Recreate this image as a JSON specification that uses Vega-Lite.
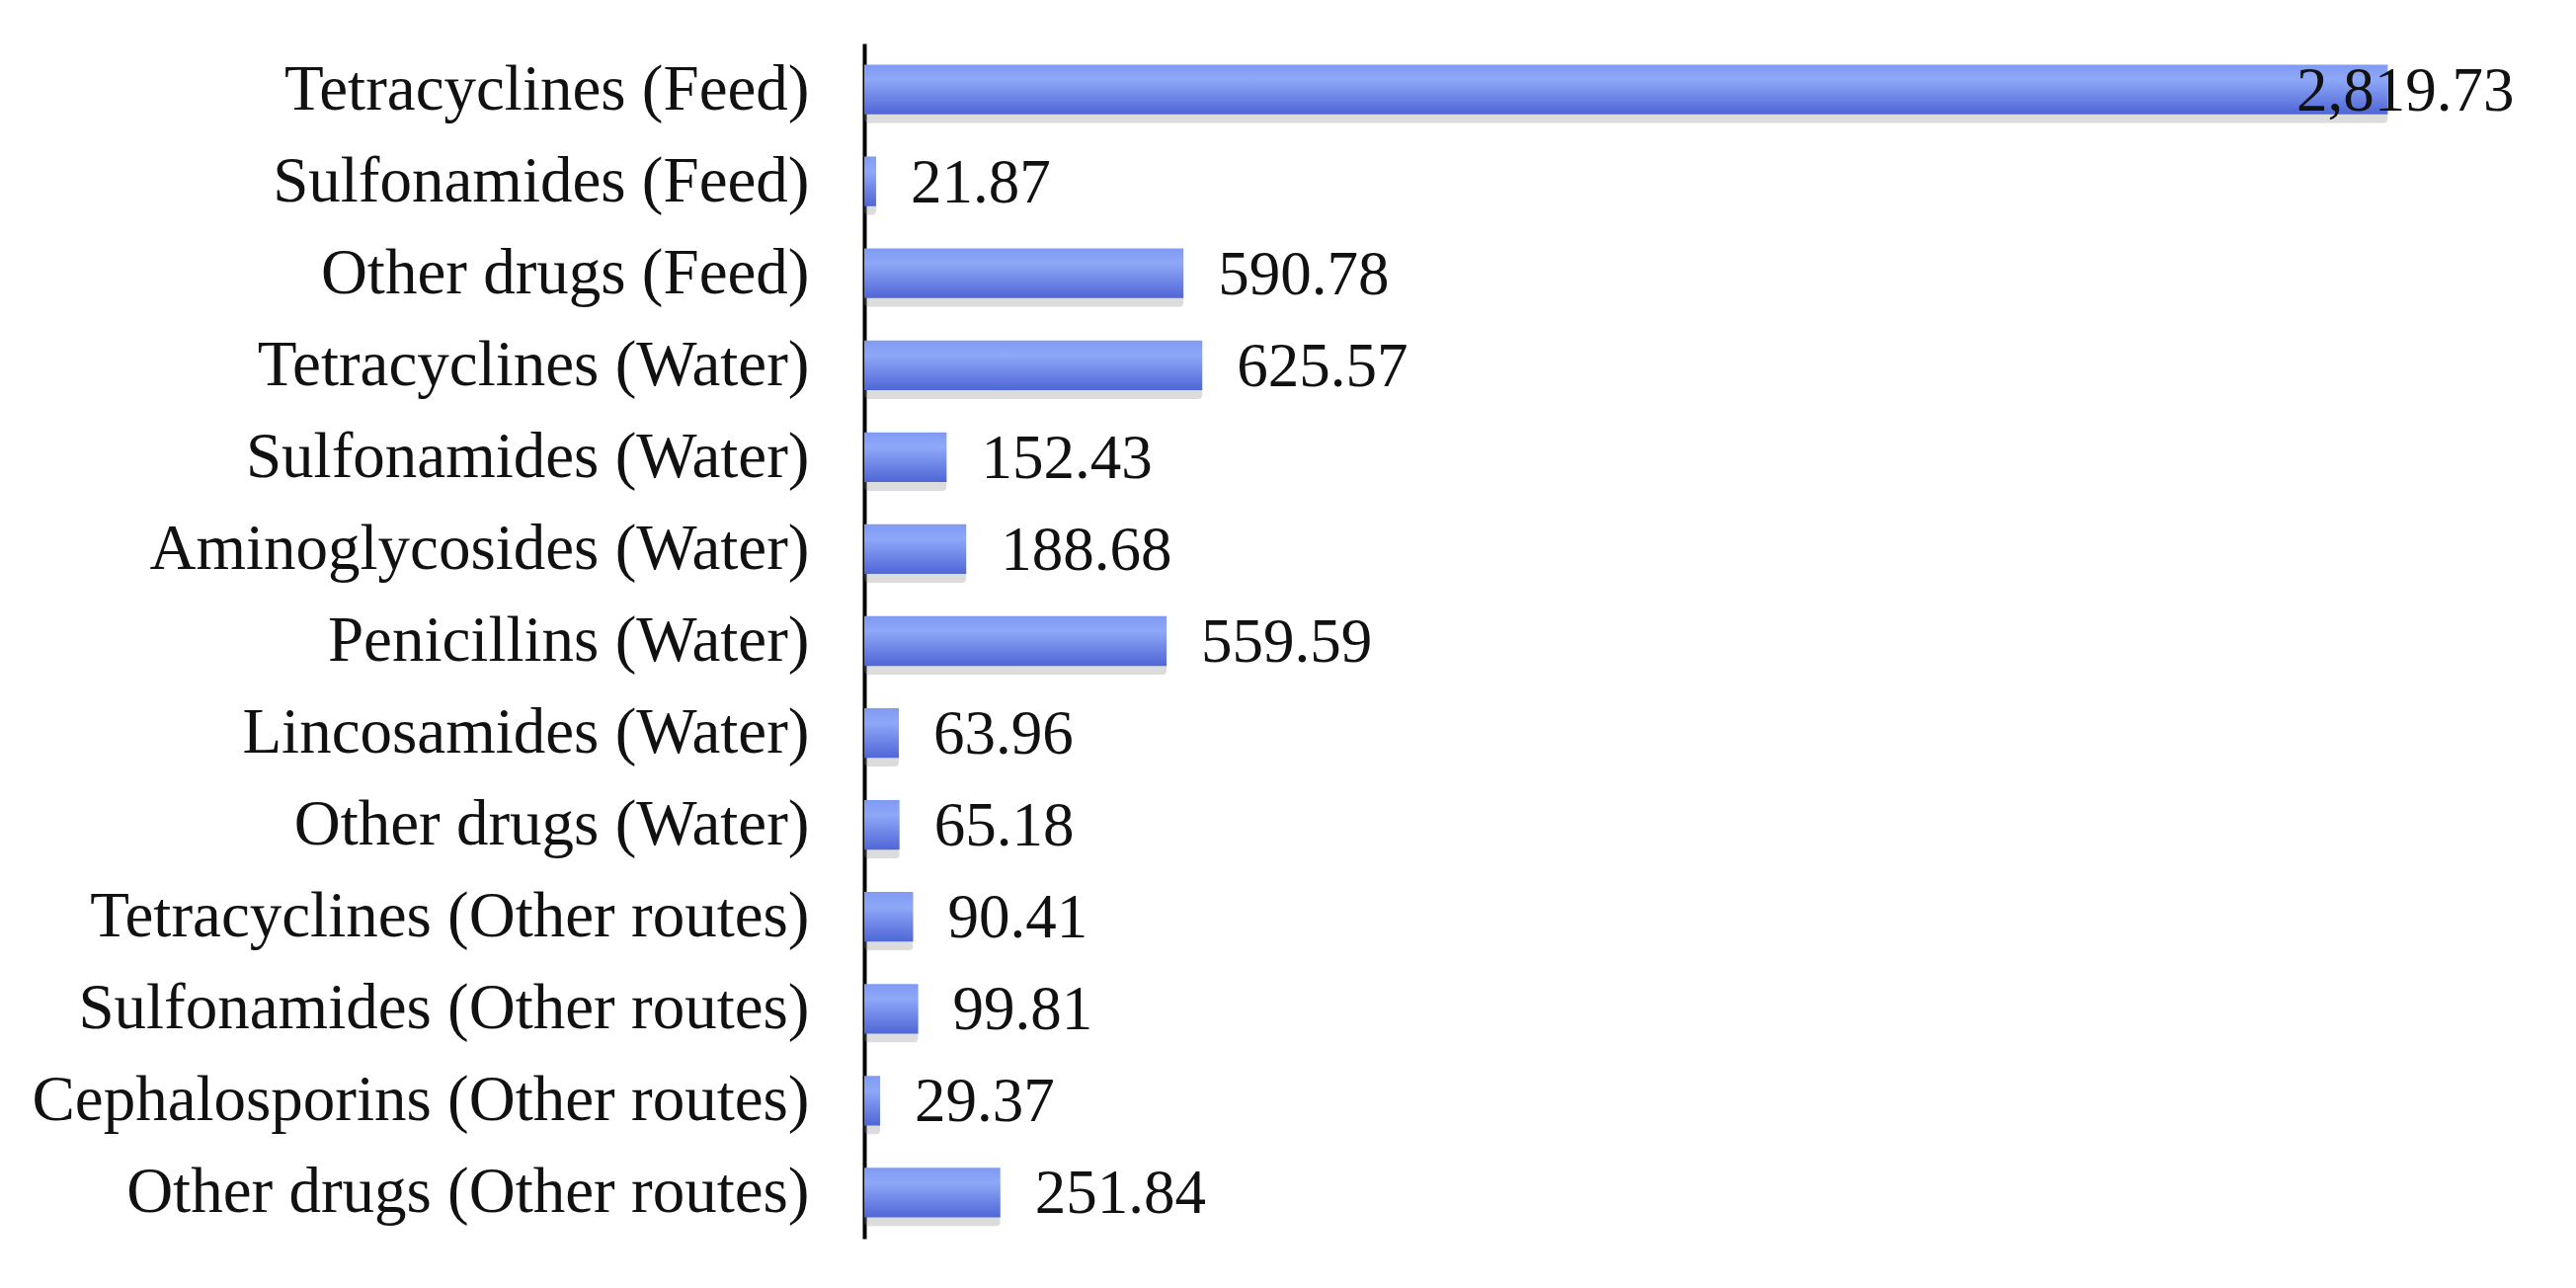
{
  "$schema": "https://vega.github.io/schema/vega-lite/v6.json",
  "autosize": "none",
  "padding": {"left": 875, "top": 44, "right": 92, "bottom": 50},
  "width": 1641,
  "height": 1210,
  "background": "white",
  "data": {
    "values": [
      {"name": "Tetracyclines (Feed)", "value": 2819.73},
      {"name": "Sulfonamides (Feed)", "value": 21.87},
      {"name": "Other drugs (Feed)", "value": 590.78},
      {"name": "Tetracyclines (Water)", "value": 625.57},
      {"name": "Sulfonamides (Water)", "value": 152.43},
      {"name": "Aminoglycosides (Water)", "value": 188.68},
      {"name": "Penicillins (Water)", "value": 559.59},
      {"name": "Lincosamides (Water)", "value": 63.96},
      {"name": "Other drugs (Water)", "value": 65.18},
      {"name": "Tetracyclines (Other routes)", "value": 90.41},
      {"name": "Sulfonamides (Other routes)", "value": 99.81},
      {"name": "Cephalosporins (Other routes)", "value": 29.37},
      {"name": "Other drugs (Other routes)", "value": 251.84}
    ]
  },
  "encoding": {
    "y": {
      "field": "name",
      "type": "nominal",
      "sort": null,
      "scale": {"paddingInner": 0.46, "paddingOuter": 0.23},
      "axis": {
        "title": null,
        "ticks": false,
        "domainColor": "#000000",
        "domainWidth": 4,
        "labelFont": "Liberation Serif",
        "labelFontSize": 65,
        "labelColor": "#111111",
        "labelPadding": 56,
        "labelLimit": 1000,
        "grid": false
      }
    },
    "x": {
      "field": "value",
      "type": "quantitative",
      "scale": {"domain": [0, 3000], "nice": false},
      "axis": null
    }
  },
  "layer": [
    {
      "mark": {"type": "bar", "color": "#8a8a8a", "opacity": 0.3, "cornerRadius": 4},
      "encoding": {"yOffset": {"value": 9}}
    },
    {
      "mark": {
        "type": "bar",
        "color": {
          "gradient": "linear",
          "x1": 0, "y1": 0, "x2": 0, "y2": 1,
          "stops": [
            {"offset": 0, "color": "#7f9af2"},
            {"offset": 0.3, "color": "#8ea8f8"},
            {"offset": 1, "color": "#4f66d6"}
          ]
        }
      }
    },
    {
      "transform": [{"filter": "datum.value < 2000"}],
      "mark": {
        "type": "text",
        "align": "left",
        "baseline": "middle",
        "dx": 35,
        "dy": 2,
        "font": "Liberation Serif",
        "fontSize": 63,
        "color": "#111111"
      },
      "encoding": {"text": {"field": "value", "type": "quantitative", "format": ",.2f"}}
    },
    {
      "transform": [{"filter": "datum.value >= 2000"}],
      "mark": {
        "type": "text",
        "align": "right",
        "baseline": "middle",
        "dx": 128,
        "dy": 2,
        "font": "Liberation Serif",
        "fontSize": 63,
        "color": "#111111"
      },
      "encoding": {"text": {"field": "value", "type": "quantitative", "format": ",.2f"}}
    }
  ],
  "config": {"view": {"stroke": null}}
}
